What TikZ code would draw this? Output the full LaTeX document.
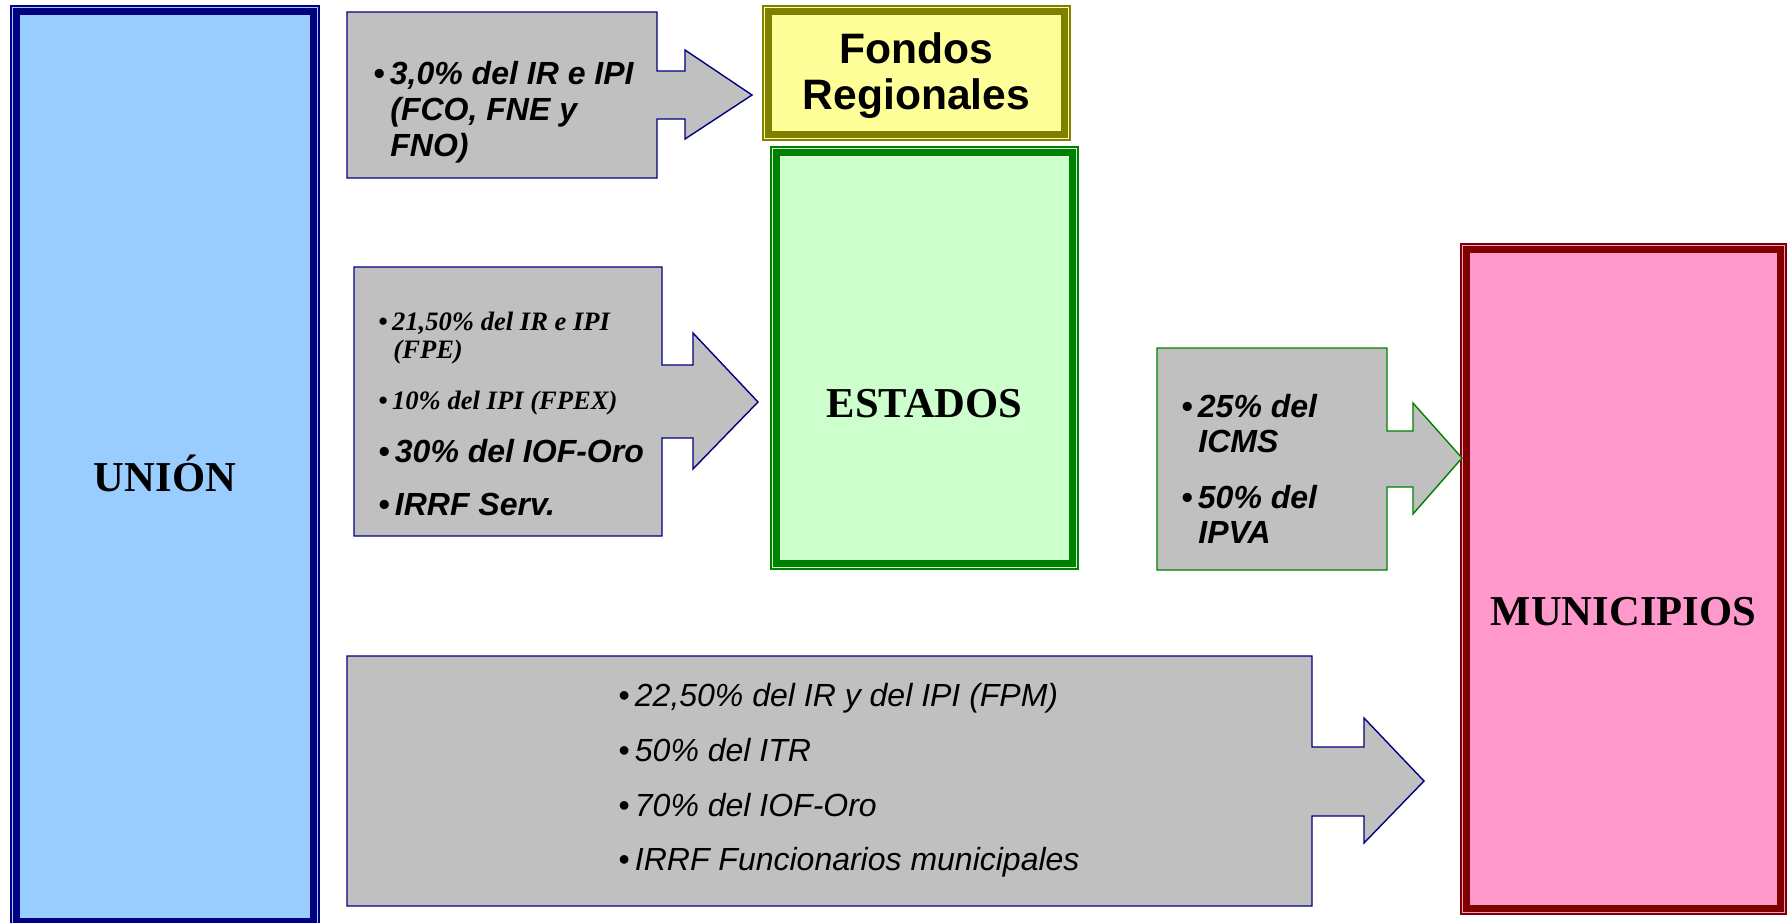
\documentclass[tikz,border=0pt]{standalone}
\usepackage{fontspec}
\setmainfont{Liberation Serif}
\newfontfamily\arialfont{Liberation Sans}

\definecolor{navyline}{HTML}{000080}
\definecolor{unionfill}{HTML}{99CCFF}
\definecolor{oliveline}{HTML}{808000}
\definecolor{fondosfill}{HTML}{FFFF99}
\definecolor{greenline}{HTML}{008000}
\definecolor{estadosfill}{HTML}{CCFFCC}
\definecolor{maroonline}{HTML}{800000}
\definecolor{municfill}{HTML}{FF99CC}
\definecolor{calloutfill}{HTML}{C0C0C0}

\tikzset{
  framebox/.style={draw=#1, line width=1pt, inner sep=0pt},
  band/.style={draw=#1, line width=3.75pt},
  callout/.style={draw=#1, fill=calloutfill, line width=0.7pt, line join=miter},
  bigserif/.style={font=\fontsize{21.3}{24}\selectfont\bfseries, inner sep=0pt, anchor=base},
  bigsans/.style={font=\arialfont\fontsize{21.3}{24}\selectfont\bfseries, inner sep=0pt, anchor=base},
  itemsans/.style={font=\arialfont\fontsize{16}{18}\selectfont\bfseries\itshape, inner sep=0pt, anchor=base west},
  itemplain/.style={font=\arialfont\fontsize{16}{18}\selectfont\itshape, inner sep=0pt, anchor=base west},
  itemserif/.style={font=\fontsize{13.3}{15}\selectfont\bfseries\itshape, inner sep=0pt, anchor=base west},
}

\begin{document}
\begin{tikzpicture}[x=0.5pt, y=-0.5pt]
\useasboundingbox (0,0) rectangle (1789,922);

% Union
\node[framebox=navyline, fill=unionfill, minimum width=154pt, minimum height=460.5pt] (union) at (165,466.5) {};
\draw[band=navyline] ([shift={(6.5,6.5)}]union.north west) rectangle ([shift={(-6.5,-6.5)}]union.south east);
\node[bigserif] (union-lbl) at (165,491) {UNIÓN};

% Fondos Regionales
\node[framebox=oliveline, fill=fondosfill, minimum width=153.5pt, minimum height=67pt] (fondos) at (916.5,73) {};
\draw[band=oliveline] ([shift={(6.5,6.5)}]fondos.north west) rectangle ([shift={(-6.5,-6.5)}]fondos.south east);
\node[bigsans] (fondos-a) at (916.5,63) {Fondos};
\node[bigsans] (fondos-b) at (916.5,109) {Regionales};

% Estados
\node[framebox=greenline, fill=estadosfill, minimum width=153.5pt, minimum height=211pt] (estados) at (924.5,358) {};
\draw[band=greenline] ([shift={(6.5,6.5)}]estados.north west) rectangle ([shift={(-6.5,-6.5)}]estados.south east);
\node[bigserif] (estados-lbl) at (924.5,417) {ESTADOS};

% Municipios
\node[framebox=maroonline, fill=municfill, minimum width=162.5pt, minimum height=335pt] (munic) at (1623.5,579) {};
\draw[band=maroonline] ([shift={(6.5,6.5)}]munic.north west) rectangle ([shift={(-6.5,-6.5)}]munic.south east);
\node[bigserif] (munic-lbl) at (1623.5,625) {MUNICIPIOS};

% Union -> Fondos
\draw[callout=navyline] (347,12) -- (657,12) -- (657,71) -- (685,71) -- (685,50) -- (752,95)
  -- (685,139) -- (685,119) -- (657,119) -- (657,178) -- (347,178) -- cycle;
\node[itemsans] (fco-a) at (373,84) {•\,3,0\% del IR e IPI};
\node[itemsans] (fco-b) at (390,120) {(FCO, FNE y};
\node[itemsans] (fco-c) at (390,156) {FNO)};

% Union -> Estados
\draw[callout=navyline] (354,267) -- (662,267) -- (662,365) -- (693,365) -- (693,333) -- (758,402)
  -- (693,469) -- (693,438) -- (662,438) -- (662,536) -- (354,536) -- cycle;
\node[itemserif] (fpe-a) at (378,330) {•\,21,50\% del IR e IPI};
\node[itemserif] (fpe-b) at (393,358) {(FPE)};
\node[itemserif] (fpex) at (378,409) {•\,10\% del IPI (FPEX)};
\node[itemsans] (iof-e) at (378,462) {•\,30\% del IOF-Oro};
\node[itemsans] (irrf-e) at (378,515) {•\,IRRF Serv.};

% Estados -> Municipios
\draw[callout=greenline] (1157,348) -- (1387,348) -- (1387,431) -- (1413,431) -- (1413,403) -- (1462,458)
  -- (1413,514) -- (1413,487) -- (1387,487) -- (1387,570) -- (1157,570) -- cycle;
\node[itemsans] (icms-a) at (1181,417) {•\,25\% del};
\node[itemsans] (icms-b) at (1198,452) {ICMS};
\node[itemsans] (ipva-a) at (1181,508) {•\,50\% del};
\node[itemsans] (ipva-b) at (1198,543) {IPVA};

% Union -> Municipios
\draw[callout=navyline] (347,656) -- (1312,656) -- (1312,747) -- (1364,747) -- (1364,718) -- (1424,781)
  -- (1364,843) -- (1364,816) -- (1312,816) -- (1312,906) -- (347,906) -- cycle;
\node[itemplain] (fpm) at (618,706) {•\,22,50\% del IR y del IPI (FPM)};
\node[itemplain] (itr) at (618,761) {•\,50\% del ITR};
\node[itemplain] (iof-m) at (618,816) {•\,70\% del IOF-Oro};
\node[itemplain] (irrf-m) at (618,870) {•\,IRRF Funcionarios municipales};
\end{tikzpicture}
\end{document}
